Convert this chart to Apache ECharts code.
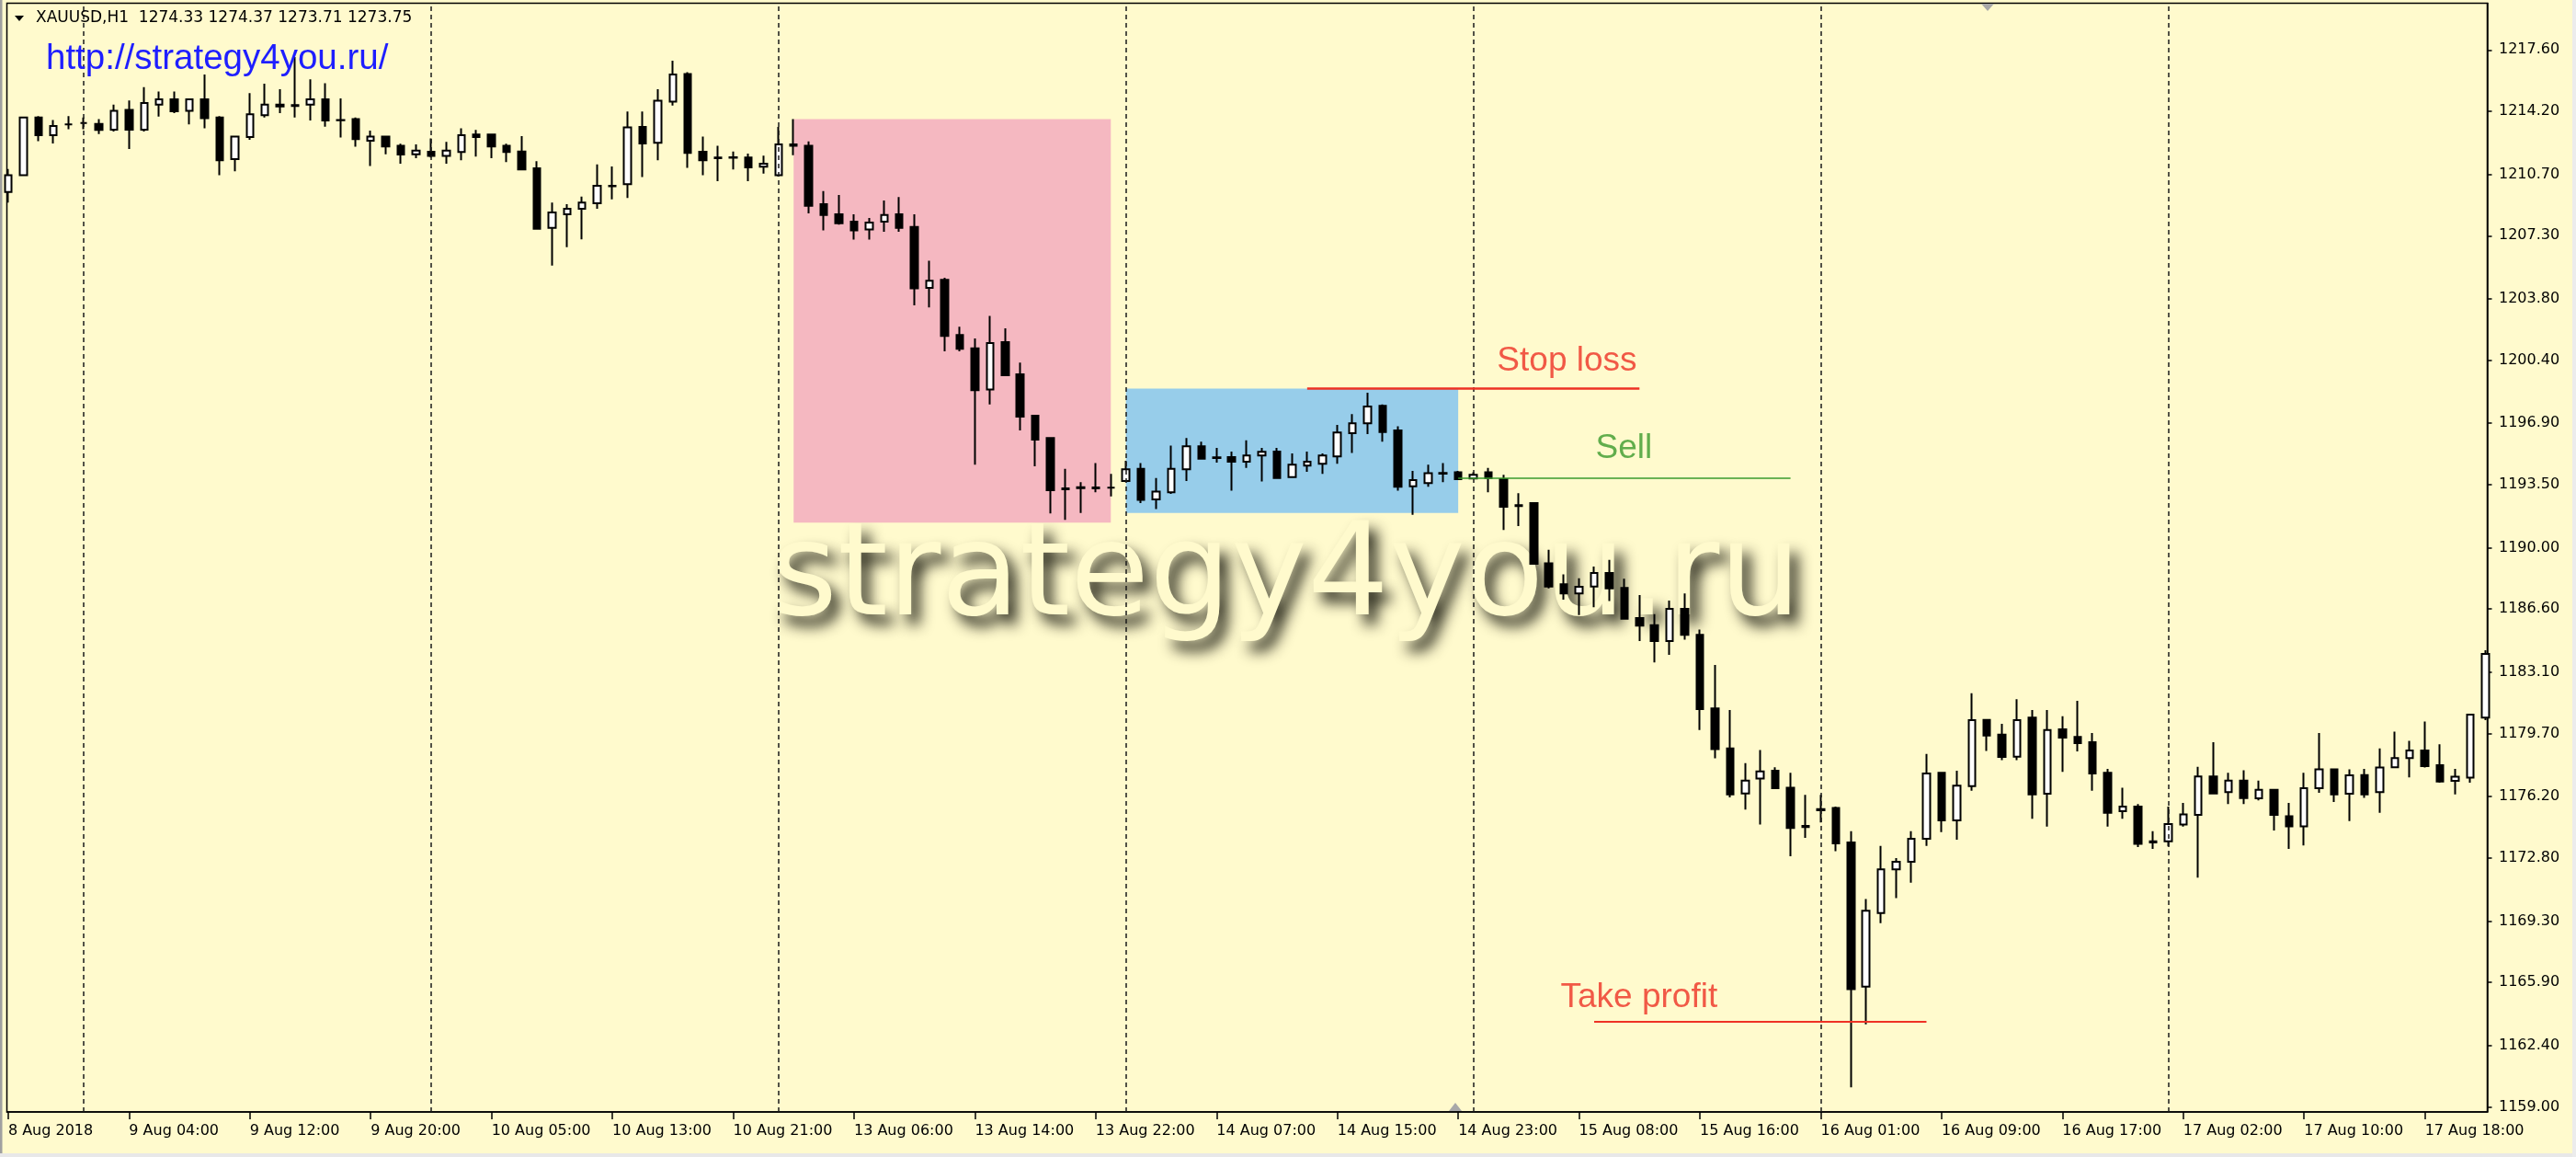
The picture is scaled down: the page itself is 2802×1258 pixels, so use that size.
<!DOCTYPE html>
<html>
<head>
<meta charset="utf-8">
<title>XAUUSD,H1</title>
<script src="https://cdn.jsdelivr.net/npm/echarts@6/dist/echarts.min.js"></script>
<style>
  html, body { margin: 0; padding: 0; background: #FFFACD; }
  #chart { width: 2802px; height: 1258px; }
</style>
</head>
<body>
<div id="chart"></div>
<script>
// XAUUSD H1 bars, 8 Aug 20:00 .. 17 Aug 22:00 (bar index = position on the x axis)
const opens = [
  1209.73, 1210.66, 1213.86, 1212.87, 1213.47, 1213.55, 1213.50, 1213.18, 1214.27, 1213.18,
  1214.57, 1214.86, 1214.23, 1214.86, 1213.86, 1211.55, 1212.77, 1213.98, 1214.57, 1214.54,
  1214.57, 1214.86, 1213.72, 1213.76, 1212.57, 1212.79, 1212.28, 1211.82, 1211.96, 1211.72,
  1211.94, 1212.91, 1212.91, 1212.28, 1211.97, 1211.04, 1207.74, 1208.49, 1208.79, 1209.10,
  1210.07, 1210.16, 1213.33, 1212.45, 1214.74, 1216.27, 1211.95, 1211.63, 1211.65, 1211.63,
  1211.12, 1210.66, 1212.36, 1212.28, 1209.05, 1208.49, 1208.08, 1207.64, 1208.08, 1208.49,
  1207.78, 1204.41, 1204.85, 1201.79, 1201.06, 1198.77, 1201.40, 1199.62, 1197.32, 1196.08,
  1193.29, 1193.36, 1193.29, 1193.33, 1193.70, 1194.38, 1192.68, 1193.07, 1194.35, 1195.62,
  1195.01, 1195.03, 1194.77, 1195.11, 1195.33, 1193.92, 1194.55, 1194.65, 1195.06, 1196.35,
  1196.90, 1197.87, 1196.51, 1193.41, 1193.58, 1194.14, 1194.18, 1193.84, 1194.18, 1193.80,
  1192.36, 1192.48, 1189.13, 1187.97, 1187.46, 1187.85, 1188.60, 1187.77, 1186.10, 1185.71,
  1184.83, 1186.61, 1185.17, 1181.09, 1178.88, 1176.38, 1177.21, 1177.64, 1176.70, 1174.58,
  1175.51, 1175.57, 1173.66, 1165.67, 1169.75, 1172.17, 1172.59, 1173.86, 1177.52, 1174.88,
  1176.79, 1180.46, 1179.64, 1178.42, 1180.58, 1176.36, 1179.93, 1179.51, 1179.22, 1177.52,
  1175.40, 1175.65, 1173.73, 1173.73, 1174.66, 1175.19, 1177.32, 1176.45, 1177.09, 1176.11,
  1176.58, 1175.11, 1174.55, 1176.67, 1177.72, 1176.36, 1177.40, 1176.45, 1177.83, 1178.34,
  1178.76, 1177.94, 1177.08, 1177.26, 1180.58
];
const closes = [
  1210.66, 1213.86, 1212.87, 1213.38, 1213.47, 1213.55, 1213.16, 1214.23, 1213.18, 1214.66,
  1214.86, 1214.20, 1214.86, 1213.81, 1211.48, 1212.79, 1214.03, 1214.57, 1214.47, 1214.49,
  1214.86, 1213.69, 1213.70, 1212.65, 1212.79, 1212.25, 1211.80, 1212.02, 1211.72, 1212.02,
  1212.87, 1212.77, 1212.25, 1211.94, 1210.97, 1207.69, 1208.59, 1208.79, 1209.14, 1210.07,
  1210.04, 1213.30, 1212.42, 1214.78, 1216.24, 1211.89, 1211.48, 1211.60, 1211.62, 1211.09,
  1211.29, 1212.36, 1212.28, 1208.96, 1208.45, 1207.99, 1207.60, 1208.03, 1208.45, 1207.74,
  1204.38, 1204.80, 1201.74, 1201.03, 1198.73, 1201.35, 1199.56, 1197.27, 1195.99, 1193.19,
  1193.24, 1193.31, 1193.34, 1193.33, 1194.35, 1192.65, 1193.12, 1194.38, 1195.62, 1194.94,
  1194.98, 1194.77, 1195.11, 1195.32, 1193.87, 1194.60, 1194.77, 1195.11, 1196.39, 1196.90,
  1197.83, 1196.42, 1193.38, 1193.75, 1194.13, 1194.11, 1193.80, 1194.04, 1193.87, 1192.27,
  1192.31, 1189.11, 1187.85, 1187.46, 1187.84, 1188.60, 1187.75, 1186.07, 1185.68, 1184.83,
  1186.61, 1185.17, 1181.05, 1178.84, 1176.33, 1177.09, 1177.60, 1176.67, 1174.46, 1174.51,
  1175.45, 1173.61, 1165.53, 1169.87, 1172.17, 1172.59, 1173.86, 1177.48, 1174.88, 1176.81,
  1180.44, 1179.59, 1178.40, 1180.44, 1176.33, 1179.90, 1179.47, 1179.17, 1177.48, 1175.31,
  1175.65, 1173.58, 1173.66, 1174.68, 1175.22, 1177.32, 1176.38, 1177.09, 1176.12, 1176.58,
  1175.19, 1174.55, 1176.67, 1177.72, 1176.33, 1177.38, 1176.33, 1177.81, 1178.34, 1178.76,
  1177.89, 1177.04, 1177.30, 1180.75, 1184.11
];
const lows = [
  1209.14, 1210.60, 1212.54, 1212.42, 1213.21, 1213.21, 1212.94, 1213.08, 1212.11, 1213.08,
  1213.90, 1214.10, 1213.47, 1213.26, 1210.66, 1210.87, 1212.62, 1213.86, 1214.10, 1213.86,
  1213.69, 1213.35, 1212.74, 1212.23, 1211.17, 1211.82, 1211.29, 1211.60, 1211.64, 1211.29,
  1211.48, 1211.69, 1211.60, 1211.38, 1210.95, 1207.66, 1205.65, 1206.67, 1207.10, 1208.79,
  1209.31, 1209.39, 1210.55, 1211.48, 1214.52, 1211.06, 1210.66, 1210.32, 1210.97, 1210.32,
  1210.75, 1210.58, 1211.77, 1208.54, 1207.60, 1207.91, 1207.09, 1207.09, 1207.52, 1207.52,
  1203.44, 1203.32, 1200.89, 1200.89, 1194.60, 1197.95, 1199.54, 1196.50, 1194.52, 1191.90,
  1191.54, 1191.93, 1193.07, 1192.85, 1193.63, 1192.48, 1192.14, 1192.99, 1193.70, 1194.89,
  1194.72, 1193.16, 1194.43, 1193.67, 1193.84, 1193.90, 1194.21, 1194.09, 1194.65, 1195.26,
  1196.30, 1195.88, 1193.16, 1191.83, 1193.38, 1193.63, 1193.75, 1193.80, 1193.07, 1190.98,
  1191.20, 1189.09, 1187.75, 1187.12, 1186.27, 1186.70, 1187.04, 1186.05, 1184.83, 1183.64,
  1184.06, 1184.90, 1179.90, 1178.33, 1176.16, 1175.48, 1174.66, 1176.64, 1172.89, 1173.92,
  1174.77, 1173.18, 1160.09, 1163.58, 1169.19, 1170.58, 1171.43, 1173.47, 1174.24, 1173.81,
  1176.53, 1178.74, 1178.23, 1178.23, 1174.97, 1174.54, 1177.57, 1178.71, 1176.53, 1174.54,
  1174.97, 1173.41, 1173.30, 1173.44, 1174.54, 1171.71, 1176.33, 1175.79, 1175.79, 1175.99,
  1174.32, 1173.30, 1173.49, 1176.41, 1175.90, 1174.85, 1176.13, 1175.31, 1177.81, 1177.27,
  1177.81, 1176.97, 1176.33, 1176.97, 1180.44
];
const highs = [
  1211.00, 1213.90, 1213.93, 1213.72, 1213.93, 1213.86, 1213.76, 1214.57, 1214.80, 1215.54,
  1215.30, 1215.30, 1214.91, 1216.24, 1213.93, 1212.84, 1215.20, 1215.73, 1215.42, 1217.21,
  1215.97, 1215.76, 1214.91, 1213.86, 1213.13, 1212.82, 1212.40, 1212.36, 1212.70, 1212.50,
  1213.25, 1213.16, 1212.94, 1212.40, 1212.82, 1211.43, 1209.14, 1209.05, 1209.47, 1211.26,
  1211.14, 1214.18, 1214.18, 1215.42, 1217.00, 1216.36, 1212.80, 1212.28, 1211.97, 1211.85,
  1211.74, 1213.33, 1213.76, 1212.53, 1209.78, 1209.56, 1208.49, 1208.28, 1209.25, 1209.44,
  1208.49, 1205.91, 1204.97, 1202.25, 1201.60, 1202.85, 1202.17, 1200.26, 1197.35, 1196.13,
  1194.38, 1193.63, 1194.69, 1194.09, 1194.82, 1194.69, 1193.87, 1195.66, 1196.08, 1195.88,
  1195.54, 1195.33, 1195.96, 1195.54, 1195.54, 1195.23, 1195.33, 1195.23, 1196.81, 1197.41,
  1198.60, 1197.95, 1196.73, 1194.26, 1194.60, 1194.69, 1194.26, 1194.18, 1194.43, 1194.04,
  1193.02, 1192.50, 1189.89, 1188.53, 1188.31, 1188.96, 1189.33, 1188.28, 1187.38, 1186.32,
  1187.07, 1187.46, 1185.46, 1183.50, 1181.00, 1178.06, 1178.79, 1177.83, 1177.52, 1176.30,
  1176.30, 1175.65, 1174.29, 1170.52, 1173.47, 1172.79, 1174.29, 1178.57, 1177.55, 1177.64,
  1181.94, 1180.48, 1180.24, 1181.60, 1181.00, 1181.00, 1180.66, 1181.51, 1179.73, 1177.74,
  1176.70, 1175.79, 1174.29, 1175.65, 1175.85, 1177.86, 1179.22, 1177.52, 1177.66, 1177.09,
  1176.62, 1175.85, 1177.52, 1179.73, 1177.76, 1177.72, 1177.74, 1178.88, 1179.81, 1179.30,
  1180.36, 1179.10, 1177.74, 1180.78, 1184.32
];

// time axis labels, one every 8 bars
const xTickLabels = [
  '8 Aug 2018', '9 Aug 04:00', '9 Aug 12:00', '9 Aug 20:00', '10 Aug 05:00', '10 Aug 13:00',
  '10 Aug 21:00', '13 Aug 06:00', '13 Aug 14:00', '13 Aug 22:00', '14 Aug 07:00', '14 Aug 15:00',
  '14 Aug 23:00', '15 Aug 08:00', '15 Aug 16:00', '16 Aug 01:00', '16 Aug 09:00', '16 Aug 17:00',
  '17 Aug 02:00', '17 Aug 10:00', '17 Aug 18:00'
];
const yTickLabels = [
  '1217.60', '1214.20', '1210.70', '1207.30', '1203.80', '1200.40', '1196.90', '1193.50', '1190.00',
  '1186.60', '1183.10', '1179.70', '1176.20', '1172.80', '1169.30', '1165.90', '1162.40', '1159.00'
];
// first bar of each day (period separators)
const daySeparators = [5, 28, 51, 74, 97, 120, 143];

// highlighted zones: [from bar, to bar], [top price, bottom price]
const zoneBars = [[52, 73], [74, 96]];
const zonePrices = [[1213.77, 1191.39], [1198.83, 1191.93]];
const zoneColors = ['#F5B8C1', '#97CDEA'];

// trade levels
const levelNames = ['Stop loss', 'Sell', 'Take profit'];
const levelBars = [[86, 108], [96, 118], [105, 127]];
const levelPrices = [1198.86, 1193.85, 1163.72];
const levelColors = ['#EE3124', '#3A9A2C', '#EE3124'];
const levelWidths = [2.5, 1.5, 2];
const levelLabelBars = [103.2, 106.97, 107.97];
const levelLabelPrices = [1200.33, 1195.47, 1165.04];

const xTickBars = xTickLabels.map((_, k) => k * 8);
const yTickValues = yTickLabels.map(Number);

const bg = '#FFFACD';
const axisFont = { fontFamily: 'DejaVu Sans', fontSize: 16, color: '#000' };

const chart = echarts.init(document.getElementById('chart'));

const candles = opens.map((o, i) => [i, o, closes[i], lows[i], highs[i]]);

const option = {
  backgroundColor: bg,
  animation: false,
  grid: {
    left: 7.5, right: 96.5, top: 3.5, bottom: 49,
    show: true, borderColor: '#000', borderWidth: 1.5,
    containLabel: false, outerBoundsMode: 'none'
  },
  xAxis: {
    type: 'value',
    min: -0.085,
    max: 164.13,
    axisLine: { show: true, onZero: false, lineStyle: { color: '#000', width: 1.5 } },
    axisTick: { show: true, customValues: xTickBars, length: 8, lineStyle: { color: '#000', width: 1.5 } },
    axisLabel: {
      customValues: xTickBars,
      formatter: (v) => xTickLabels[Math.round(v / 8)],
      align: 'left',
      margin: 13,
      ...axisFont
    },
    splitLine: { show: false }
  },
  yAxis: {
    type: 'value',
    position: 'right',
    min: 1158.72,
    max: 1220.19,
    axisLine: { show: true, onZero: false, lineStyle: { color: '#000', width: 1.5 } },
    axisTick: { show: true, customValues: yTickValues, length: 5, lineStyle: { color: '#000', width: 1.5 } },
    axisLabel: {
      customValues: yTickValues,
      formatter: (v) => v.toFixed(2),
      margin: 12.5,
      ...axisFont
    },
    splitLine: { show: false }
  },
  series: [
    {
      type: 'candlestick',
      data: candles,
      encode: { x: 0, y: [1, 2, 3, 4] },
      barWidth: 8,
      itemStyle: {
        color: '#fff', color0: '#000',
        borderColor: '#000', borderColor0: '#000', borderColorDoji: '#000',
        borderWidth: 2
      },
      markArea: {
        silent: true,
        label: { show: false },
        data: zoneBars.map((b, k) => [
          { xAxis: b[0], yAxis: zonePrices[k][0], itemStyle: { color: zoneColors[k], opacity: 1 } },
          { xAxis: b[1], yAxis: zonePrices[k][1] }
        ])
      },
      markLine: {
        silent: true,
        symbol: ['none', 'none'],
        label: { show: false },
        data: [
          ...daySeparators.map((b) => ({
            xAxis: b,
            lineStyle: { color: '#1a1a1a', width: 1.5, type: [5, 4] }
          })),
          ...levelNames.map((n, k) => [
            { coord: [levelBars[k][0], levelPrices[k]], lineStyle: { color: levelColors[k], width: levelWidths[k], type: 'solid' } },
            { coord: [levelBars[k][1], levelPrices[k]] }
          ])
        ]
      }
    },
    {
      type: 'scatter',
      silent: true,
      symbolSize: 1,
      itemStyle: { color: 'rgba(0,0,0,0)' },
      z: 6,
      data: levelNames.map((name, k) => ({
        name,
        value: [levelLabelBars[k], levelLabelPrices[k]],
        label: { color: levelColors[k] }
      })),
      label: {
        show: true,
        position: 'inside',
        formatter: '{b}',
        fontFamily: 'Liberation Sans',
        fontSize: 37
      }
    }
  ],
  graphic: [
    {
      // big watermark behind the candles
      type: 'text', z: 1, silent: true,
      x: 838, y: 632,
      style: {
        text: 'strategy4you.ru',
        font: '140px "DejaVu Sans"',
        fill: bg,
        align: 'left', verticalAlign: 'middle',
        textAlign: 'left', textVerticalAlign: 'middle',
        textShadowColor: 'rgba(20,20,10,0.9)', textShadowBlur: 15,
        textShadowOffsetX: 9, textShadowOffsetY: 11
      }
    },
    {
      type: 'text', z: 20, silent: true,
      x: 50, y: 64,
      style: {
        text: 'http://strategy4you.ru/',
        font: '38.5px "Liberation Sans"',
        fill: '#1E1EFF',
        align: 'left', verticalAlign: 'middle',
        textAlign: 'left', textVerticalAlign: 'middle'
      }
    },
    {
      type: 'text', z: 20, silent: true,
      x: 39, y: 20,
      style: {
        text: 'XAUUSD,H1  1274.33 1274.37 1273.71 1273.75',
        font: '17px "DejaVu Sans"',
        fill: '#000',
        align: 'left', verticalAlign: 'middle',
        textAlign: 'left', textVerticalAlign: 'middle'
      }
    },
    {
      type: 'polygon', z: 20, silent: true,
      shape: { points: [[16, 17], [26, 17], [21, 23]] },
      style: { fill: '#000' }
    },
    {
      type: 'polygon', z: 20, silent: true,
      shape: { points: [[2155, 4], [2169, 4], [2162, 12]] },
      style: { fill: '#A8A8A8' }
    },
    {
      type: 'polygon', z: 20, silent: true,
      shape: { points: [[1576, 1208], [1590, 1208], [1583, 1199]] },
      style: { fill: '#A8A8A8' }
    },
    {
      type: 'rect', z: 20, silent: true,
      shape: { x: 0, y: 0, width: 2.5, height: 1258 },
      style: { fill: '#A0A0A0' }
    },
    {
      type: 'rect', z: 20, silent: true,
      shape: { x: 0, y: 1254, width: 2802, height: 4 },
      style: { fill: '#E8E8E8' }
    },
    {
      type: 'rect', z: 20, silent: true,
      shape: { x: 2798, y: 0, width: 4, height: 1258 },
      style: { fill: '#ECECEC' }
    }
  ]
};

chart.setOption(option);
</script>
</body>
</html>
